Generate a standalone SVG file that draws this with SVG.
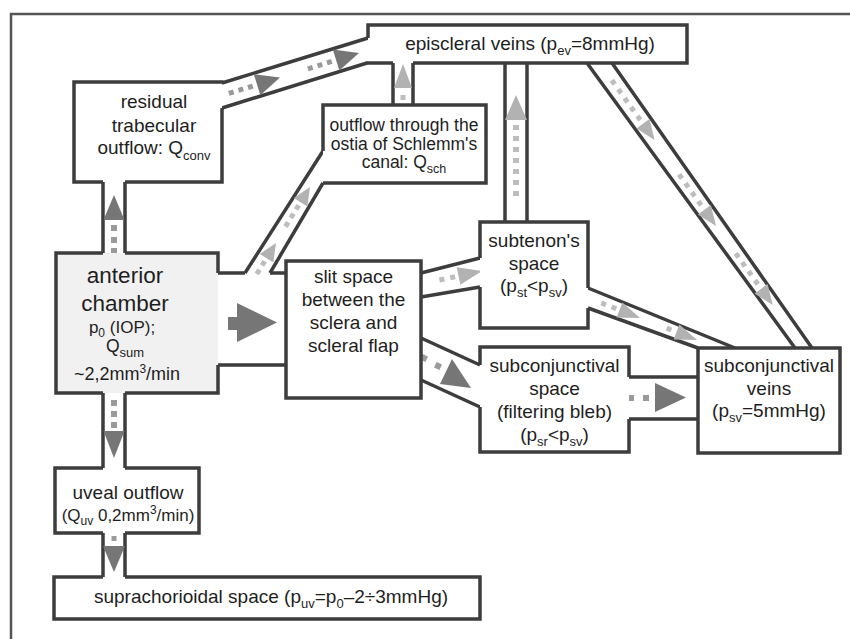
<svg xmlns="http://www.w3.org/2000/svg" width="850" height="639" viewBox="0 0 850 639" font-size="19">
<style>
.box{fill:none;stroke:#3d3d3d;stroke-width:3.5;stroke-linejoin:miter}
.ln{fill:none;stroke:#3d3d3d;stroke-width:3.5}
.dk{fill:#767676}
.dkd{fill:#9a9a9a}
.lt{fill:#b2b2b2}
.ltd{fill:#bdbdbd}
.bg{fill:#ffffff}
text{font-family:"Liberation Sans",Arial,sans-serif;fill:#1e1e1e;text-anchor:middle}
</style>
<rect x="0" y="0" width="850" height="639" fill="#ffffff"/>
<path d="M11,639 V14 H850" fill="none" stroke="#555" stroke-width="2.5"/>

<g id="connectors">
  <!-- residual -> episcleral -->
  <path class="ln" d="M222,83 L368,38 M222,108 L367,63"/>
  <g transform="translate(280,77.6) rotate(-17.2)">
    <polygon class="dk" points="0,0 -24,-11 -24,11"/>
    <rect class="dkd" x="-33.5" y="-2.5" width="5" height="5"/>
    <rect class="dkd" x="-43.5" y="-2.5" width="5" height="5"/>
    <rect class="dkd" x="-53.5" y="-2.5" width="5" height="5"/>
  </g>
  <g transform="translate(359,53) rotate(-17.2)">
    <polygon class="dk" points="0,0 -24,-11 -24,11"/>
    <rect class="dkd" x="-33.5" y="-2.5" width="5" height="5"/>
    <rect class="dkd" x="-43.5" y="-2.5" width="5" height="5"/>
    <rect class="dkd" x="-53.5" y="-2.5" width="5" height="5"/>
  </g>
  <!-- anterior -> residual -->
  <path class="ln" d="M103,182 V253 M125,182 V253"/>
  <polygon class="dk" points="114,195 103.5,220 124.5,220"/>
  <rect class="dkd" x="111" y="225" width="6" height="6"/>
  <rect class="dkd" x="111" y="237" width="6" height="6"/>
  <rect class="dkd" x="111" y="248" width="6" height="6"/>
  <!-- anterior -> uveal -->
  <path class="ln" d="M103,393 V468 M125,393 V468"/>
  <rect class="dkd" x="111" y="400" width="6" height="6"/>
  <rect class="dkd" x="111" y="411" width="6" height="6"/>
  <rect class="dkd" x="111" y="422" width="6" height="6"/>
  <polygon class="dk" points="103.5,431 124.5,431 114,458"/>
  <!-- uveal -> suprachoroidal -->
  <path class="ln" d="M103,533 V577 M125,533 V577"/>
  <rect class="dkd" x="111.5" y="536" width="5" height="5"/>
  <polygon class="dk" points="103,546 125,546 114,572"/>
  <!-- anterior -> slit -->
  <path class="ln" d="M218,273 H245 M270,273 H286 M218,365 H286"/>
  <polygon class="dk" points="228,317 237,317 237,303 277,322.5 237,342 237,330 228,330"/>
  <!-- channel -> Schlemm -->
  <path class="ln" d="M245,273 L323,151 M270,273 L323,183"/>
  <g transform="translate(276,243) rotate(-58.3)">
    <polygon class="lt" points="0,0 -18,-8 -18,8"/>
    <rect class="ltd" x="-26.5" y="-2.5" width="5" height="5"/>
    <rect class="ltd" x="-36.5" y="-2.5" width="5" height="5"/>
  </g>
  <g transform="translate(310,187) rotate(-58.3)">
    <polygon class="lt" points="0,0 -18,-8 -18,8"/>
    <rect class="ltd" x="-26.5" y="-2.5" width="5" height="5"/>
    <rect class="ltd" x="-36.5" y="-2.5" width="5" height="5"/>
    <rect class="ltd" x="-46.5" y="-2.5" width="5" height="5"/>
  </g>
  <!-- Schlemm -> episcleral -->
  <path class="ln" d="M393,63 V105 M413,63 V105"/>
  <polygon class="lt" points="403,64 394,88 412,88"/>
  <rect class="ltd" x="400.5" y="95" width="5" height="5"/>
  <!-- slit -> subtenon -->
  <path class="ln" d="M421,273 L480,258 M421,297 L480,287"/>
  <g transform="translate(482,271) rotate(-12)">
    <polygon class="lt" points="0,0 -24,-9 -24,9"/>
    <rect class="ltd" x="-32.5" y="-2.5" width="5" height="5"/>
    <rect class="ltd" x="-43.5" y="-2.5" width="5" height="5"/>
  </g>
  <!-- subtenon -> episcleral -->
  <path class="ln" d="M505,63 V222 M527,63 V222"/>
  <polygon class="lt" points="516,95 505,120 527,120"/>
  <rect class="ltd" x="513" y="125" width="6" height="5"/>
  <rect class="ltd" x="513" y="136" width="6" height="5"/>
  <rect class="ltd" x="513" y="147" width="6" height="5"/>
  <rect class="ltd" x="513" y="158" width="6" height="5"/>
  <rect class="ltd" x="513" y="169" width="6" height="5"/>
  <rect class="ltd" x="513" y="180" width="6" height="5"/>
  <rect class="ltd" x="513" y="191" width="6" height="5"/>
  <!-- episcleral -> subconjunctival veins -->
  <path class="ln" d="M587,63 L795,348 M612,63 L812,348"/>
  <g transform="translate(654.6,140) rotate(54.4)">
    <polygon class="lt" points="0,0 -20,-8 -20,8"/>
    <rect class="ltd" x="-29.5" y="-2.5" width="5" height="5"/>
    <rect class="ltd" x="-40.5" y="-2.5" width="5" height="5"/>
    <rect class="ltd" x="-51.5" y="-2.5" width="5" height="5"/>
    <rect class="ltd" x="-62.5" y="-2.5" width="5" height="5"/>
    <rect class="ltd" x="-73.5" y="-2.5" width="5" height="5"/>
  </g>
  <g transform="translate(716,226) rotate(54.4)">
    <polygon class="lt" points="0,0 -20,-8 -20,8"/>
    <rect class="ltd" x="-30.5" y="-2.5" width="5" height="5"/>
    <rect class="ltd" x="-41.5" y="-2.5" width="5" height="5"/>
    <rect class="ltd" x="-52.5" y="-2.5" width="5" height="5"/>
    <rect class="ltd" x="-63.5" y="-2.5" width="5" height="5"/>
  </g>
  <g transform="translate(772.7,305) rotate(54.4)">
    <polygon class="lt" points="0,0 -20,-8 -20,8"/>
    <rect class="ltd" x="-30.5" y="-2.5" width="5" height="5"/>
    <rect class="ltd" x="-41.5" y="-2.5" width="5" height="5"/>
    <rect class="ltd" x="-52.5" y="-2.5" width="5" height="5"/>
    <rect class="ltd" x="-63.5" y="-2.5" width="5" height="5"/>
  </g>
  <!-- subtenon -> subconjunctival veins -->
  <path class="ln" d="M588,288 L735,348 M588,308 L698,348"/>
  <g transform="translate(640,318) rotate(21.3)">
    <polygon class="lt" points="0,0 -22,-8 -22,8"/>
    <rect class="ltd" x="-30.5" y="-2.5" width="5" height="5"/>
    <rect class="ltd" x="-41.5" y="-2.5" width="5" height="5"/>
  </g>
  <g transform="translate(697,340) rotate(21.3)">
    <polygon class="lt" points="0,0 -22,-8 -22,8"/>
    <rect class="ltd" x="-32.5" y="-2.5" width="5" height="5"/>
  </g>
  <!-- slit -> subconjunctival space -->
  <path class="ln" d="M421,338 L480,365 M421,380 L480,407"/>
  <polygon class="dk" points="452,359 440,384 471,388"/>
  <rect class="dkd" x="-3" y="-3" width="6" height="6" transform="translate(424,358) rotate(25)"/>
  <rect class="dkd" x="-3" y="-3" width="6" height="6" transform="translate(438,366) rotate(25)"/>
  <!-- subconjunctival space -> subconjunctival veins -->
  <path class="ln" d="M629,377 H698 M629,419 H698"/>
  <rect class="dkd" x="628" y="395" width="6" height="6"/>
  <rect class="dkd" x="643" y="395" width="6" height="6"/>
  <polygon class="dk" points="655,383 655,412 686,397.5"/>
</g>

<g id="residual">
  <rect class="bg" x="74" y="82" width="148" height="100"/>
  <path class="box" d="M222,108 V182 H125 M103,182 H74 V82 H223.5"/>
  <text x="154" y="108">residual</text>
  <text x="154" y="132">trabecular</text>
  <text x="154" y="154">outflow: Q<tspan font-size="13" dy="6">conv</tspan></text>
</g>

<g id="episcleral">
  <rect class="bg" x="368" y="25" width="319" height="38"/>
  <path class="box" d="M368,38 V25 H687 V63 H413 M393,63 H366"/>
  <text x="530" y="50">episcleral veins (p<tspan font-size="13" dy="5">ev</tspan><tspan dy="-5">=8mmHg)</tspan></text>
</g>

<g id="schlemm" font-size="17.5">
  <rect class="bg" x="323" y="105" width="163" height="78"/>
  <path class="box" d="M323,151 V105 H486 V183 H323"/>
  <text x="404" y="131">outflow through the</text>
  <text x="404" y="149.5">ostia of Schlemm's</text>
  <text x="404" y="168">canal: Q<tspan font-size="12.5" dy="5">sch</tspan></text>
</g>

<g id="anterior">
  <rect x="56" y="253" width="162" height="140" fill="#f1f1f1"/>
  <path class="box" d="M103,253 H56 V393 H103 M125,393 H218 V365 M218,273 V253 H125"/>
  <text x="125" y="283" font-size="22.5">anterior</text>
  <text x="125" y="311" font-size="22.5">chamber</text>
  <text x="122" y="333" font-size="17">p<tspan font-size="12" dy="4">0</tspan><tspan dy="-4"> (IOP);</tspan></text>
  <text x="125" y="352" font-size="17.5">Q<tspan font-size="13" dy="5">sum</tspan></text>
  <text x="127" y="380" font-size="18">~2,2mm<tspan font-size="12" dy="-7">3</tspan><tspan dy="7">/min</tspan></text>
</g>

<g id="slit">
  <rect class="bg" x="286" y="261" width="135" height="137"/>
  <rect class="box" x="286" y="261" width="135" height="137"/>
  <text x="353.5" y="283">slit space</text>
  <text x="353.5" y="306">between the</text>
  <text x="353.5" y="329">sclera and</text>
  <text x="353.5" y="352">scleral flap</text>
</g>

<g id="subtenon">
  <rect class="bg" x="480" y="222" width="108" height="106"/>
  <path class="box" d="M480,258 V222 H588 V288 M588,308 V328 H480 V287"/>
  <text x="534" y="247">subtenon's</text>
  <text x="534" y="270">space</text>
  <text x="534" y="292">(p<tspan font-size="13" dy="5">st</tspan><tspan dy="-5">&lt;p</tspan><tspan font-size="13" dy="5">sv</tspan><tspan dy="-5">)</tspan></text>
</g>

<g id="subconj-space">
  <rect class="bg" x="480" y="347" width="149" height="105"/>
  <path class="box" d="M480,365 V347 H629 V377 M629,419 V452 H480 V407"/>
  <text x="554.5" y="372">subconjunctival</text>
  <text x="554.5" y="395">space</text>
  <text x="554.5" y="418">(filtering bleb)</text>
  <text x="554.5" y="441">(p<tspan font-size="13" dy="5">sr</tspan><tspan dy="-5">&lt;p</tspan><tspan font-size="13" dy="5">sv</tspan><tspan dy="-5">)</tspan></text>
</g>

<g id="subconj-veins">
  <rect class="bg" x="698" y="348" width="142" height="105"/>
  <rect class="box" x="698" y="348" width="142" height="105"/>
  <text x="769" y="372">subconjunctival</text>
  <text x="769" y="395">veins</text>
  <text x="769" y="417">(p<tspan font-size="13" dy="5">sv</tspan><tspan dy="-5">=5mmHg)</tspan></text>
</g>

<g id="uveal">
  <rect class="bg" x="55" y="468" width="144" height="65"/>
  <path class="box" d="M103,468 H55 V533 H103 M125,533 H199 V468 H125"/>
  <text x="128" y="499">uveal outflow</text>
  <text x="128" y="521" font-size="17">(Q<tspan font-size="12" dy="4">uv</tspan><tspan dy="-4"> 0,2mm</tspan><tspan font-size="12" dy="-7">3</tspan><tspan dy="7">/min)</tspan></text>
</g>

<g id="suprachoroidal">
  <rect class="bg" x="54" y="577" width="426" height="42"/>
  <path class="box" d="M103,577 H54 V619 H480 V577 H125"/>
  <text x="271" y="603">suprachorioidal space (p<tspan font-size="13" dy="5">uv</tspan><tspan dy="-5">=p</tspan><tspan font-size="13" dy="5">0</tspan><tspan dy="-5">–2÷3mmHg)</tspan></text>
</g>
</svg>
